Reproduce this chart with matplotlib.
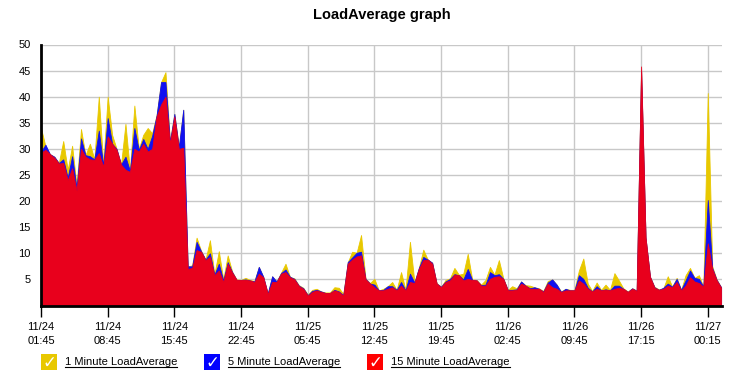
import matplotlib
matplotlib.use("Agg")
import matplotlib.pyplot as plt
import numpy as np
from matplotlib.patches import Rectangle
from matplotlib.lines import Line2D

# samples, 15 per tick interval (older -> newer)
load1 = [34, 30.5, 29, 28.5, 27.3, 31.5, 26, 30.6, 23, 33.8,
         28.8, 31, 28, 40, 27, 40, 32.7, 30, 27, 34.8,
         25.8, 38.3, 30, 32.7, 34, 33, 36.5, 42.8, 44.7, 31.5,
         36.7, 30.5, 37.5, 7.5, 7.7, 13, 10.5, 8.8, 12.5, 6,
         10.4, 5.0, 9.6, 6.5, 5, 4.9, 5.3, 4.9, 4.7, 7.4,
         5.5, 2.3, 5.6, 4.6, 6.3, 8, 5.5, 5.2, 3.9, 3.4,
         2.1, 3.0, 3.2, 2.7, 2.5, 2.5, 3.5, 3.4, 2.2, 8.3,
         10.3, 10.1, 13.5, 5.2, 4.3, 5.1, 2.9, 3.2, 3.7, 4.5,
         3.0, 6.4, 3.0, 12.2, 4.5, 7.2, 10.7, 8.8, 8.2, 4.3,
         3.6, 4.9, 5.2, 7.2, 5.9, 6.1, 9.9, 5.0, 4.9, 4.0,
         4.9, 7.4, 5.9, 8.7, 5.2, 3.0, 3.7, 3.3, 4.6, 3.9,
         3.8, 3.5, 3.3, 2.8, 4.7, 5.0, 4.0, 2.7, 3.2, 3.0,
         3.0, 6.7, 9.0, 4.2, 2.8, 4.4, 3.0, 4.0, 3.0, 6.2,
         4.8, 3.3, 2.7, 3.3, 2.9, 45, 13, 5.5, 3.6, 3.1,
         3.3, 5.6, 3.6, 5.3, 3.0, 5.8, 7.2, 5.3, 5.8, 3.6,
         40.7, 7.5, 5.0, 3.5]
load5 = [29.5, 30.8, 29, 28.5, 27.3, 28, 24.5, 28.6, 22.5, 32,
         28.8, 28.6, 28, 33.5, 26.8, 35.9, 31, 30, 27, 28.5,
         25.8, 34, 29.8, 31.9, 30, 32.5, 36.4, 42.8, 42.8, 31.3,
         36.7, 30.3, 37.5, 7.5, 7.5, 12.2, 10.4, 8.8, 10, 5.9,
         8, 4.8, 8.3, 6.4, 4.9, 4.9, 5.0, 4.8, 4.6, 7.4,
         5.5, 2.3, 5.6, 4.6, 6.2, 6.9, 5.5, 5.1, 3.8, 3.3,
         2.0, 2.8, 3.0, 2.7, 2.4, 2.4, 3.0, 2.7, 2.0, 8.3,
         9.2, 10.1, 10.3, 5.1, 4.2, 4.0, 2.9, 3.0, 3.7, 3.7,
         3.0, 4.5, 2.9, 6.1, 4.4, 7.2, 9.3, 8.8, 8.2, 4.2,
         3.6, 4.6, 5.1, 6.0, 5.8, 5.0, 7.0, 4.9, 4.8, 3.9,
         4.0, 6.4, 5.8, 6.0, 5.1, 3.0, 3.0, 3.1, 4.6, 3.8,
         3.3, 3.5, 3.2, 2.7, 4.4, 5.0, 4.0, 2.6, 3.2, 2.9,
         2.9, 5.8, 5.1, 3.4, 2.7, 3.7, 2.9, 3.1, 2.9, 3.8,
         3.8, 3.2, 2.6, 3.3, 2.8, 45, 13, 5.5, 3.5, 3.0,
         3.4, 4.2, 3.6, 5.1, 3.0, 4.8, 6.7, 5.3, 5.1, 3.6,
         20.2, 7.2, 4.9, 3.5]
load15 = [29.3, 29.8, 29, 28.3, 27.2, 27.3, 24, 26.3, 22, 30,
          28.5, 28, 27.9, 29.2, 26.6, 32.4, 31, 29.8, 27, 26,
          25.6, 30, 29.5, 31, 29.5, 30, 36.2, 38.5, 40, 31,
          36.2, 30, 30.2, 7, 7.2, 10.6, 10.3, 8.7, 9.3, 5.8,
          6.7, 4.5, 8, 6.3, 4.9, 4.9, 4.9, 4.8, 4.5, 6.1,
          5.4, 2.2, 4.5, 4.5, 6.1, 6.4, 5.4, 5.0, 3.7, 3.2,
          1.9, 2.6, 2.9, 2.6, 2.4, 2.4, 2.9, 2.6, 1.9, 8,
          8.8, 9.4, 9.6, 5.0, 4.2, 3.5, 2.9, 2.9, 3.2, 3.5,
          2.9, 3.8, 2.9, 4.5, 4.3, 7.0, 8.7, 8.8, 8.0, 4.2,
          3.5, 4.5, 4.8, 5.9, 5.8, 4.8, 5.1, 4.9, 4.8, 3.8,
          3.8, 5.1, 5.5, 5.6, 5.1, 2.9, 2.9, 3.0, 4.2, 3.8,
          3.2, 3.2, 3.2, 2.6, 4.2, 3.5, 3.2, 2.6, 2.9, 2.9,
          2.9, 4.8, 4.2, 3.2, 2.7, 3.2, 2.9, 3.0, 2.9, 3.2,
          3.4, 3.2, 2.6, 3.2, 2.8, 45.8, 13, 5.5, 3.4, 3.0,
          3.2, 3.8, 3.5, 4.5, 2.9, 3.8, 5.4, 4.6, 4.3, 3.6,
          11.9, 7.0, 4.8, 3.4]

tick_pos = [0, 15, 30, 45, 60, 75, 90, 105, 120, 135, 150]
tick_labels = ["11/24\n01:45", "11/24\n08:45", "11/24\n15:45", "11/24\n22:45",
               "11/25\n05:45", "11/25\n12:45", "11/25\n19:45", "11/26\n02:45",
               "11/26\n09:45", "11/26\n17:15", "11/27\n00:15"]
series_names = ["1 Minute LoadAverage", "5 Minute LoadAverage", "15 Minute LoadAverage"]

fill_colors = ["#E8C800", "#1010F0", "#E8001C"]
box_colors = ["#E8C800", "#0000FF", "#FF0000"]

plt.rcParams["font.family"] = ["Liberation Sans", "DejaVu Sans"]

W, H = 738, 385
fig = plt.figure(figsize=(W / 100, H / 100), dpi=100)
L, R, T, B = 41, 722, 44.5, 305.5
ax = fig.add_axes([L / W, 1 - B / H, (R - L) / W, (B - T) / H])

x = np.arange(len(load15))
for vals, col in zip([load1, load5, load15], fill_colors):
    ax.fill_between(x, 0, vals, color=col, lw=0.6, edgecolor=col)

ax.set_xlim(0, 153.2)
ax.set_ylim(0, 50)
ax.set_yticks(range(5, 51, 5))
ax.set_xticks(tick_pos)
ax.set_xticklabels(tick_labels, fontsize=8, linespacing=1.5)
ax.tick_params(axis="y", length=0, pad=7.5, labelsize=8)
ax.tick_params(axis="x", length=8, width=1, pad=4, color="black")
ax.grid(True, color="#C8C8C8", lw=1)
ax.set_axisbelow(True)
for s in ["top", "right"]:
    ax.spines[s].set_visible(False)
for s in ["left", "bottom"]:
    ax.spines[s].set_linewidth(2)
    ax.spines[s].set_zorder(5)

fig.text((L + R) / 2 / W, 1 - 15 / H, "LoadAverage graph", ha="center", va="center",
         fontsize=10.5, fontweight="bold")

# legend: coloured check boxes and underlined names
box_x = [41, 204, 367]
ly = 362
texts = []
for bx, col, name in zip(box_x, box_colors, series_names):
    fig.add_artist(Rectangle(((bx) / W, 1 - (ly + 8) / H), 16 / W, 16 / H,
                             transform=fig.transFigure, facecolor=col, edgecolor="none"))
    fig.text((bx + 8) / W, 1 - (ly + 1) / H, "\u2713", ha="center", va="center",
             color="white", fontsize=12, fontweight="bold", family="DejaVu Sans")
    t = fig.text((bx + 24) / W, 1 - ly / H, name, ha="left", va="center", fontsize=8)
    texts.append(t)

fig.canvas.draw()
r = fig.canvas.get_renderer()
for t in texts:
    bb = t.get_window_extent(renderer=r)
    yl = bb.y0 + 0.5
    fig.add_artist(Line2D([bb.x0 / W, bb.x1 / W], [yl / H, yl / H],
                          transform=fig.transFigure, color="black", lw=0.8))

fig.savefig("out.png", dpi=100)
